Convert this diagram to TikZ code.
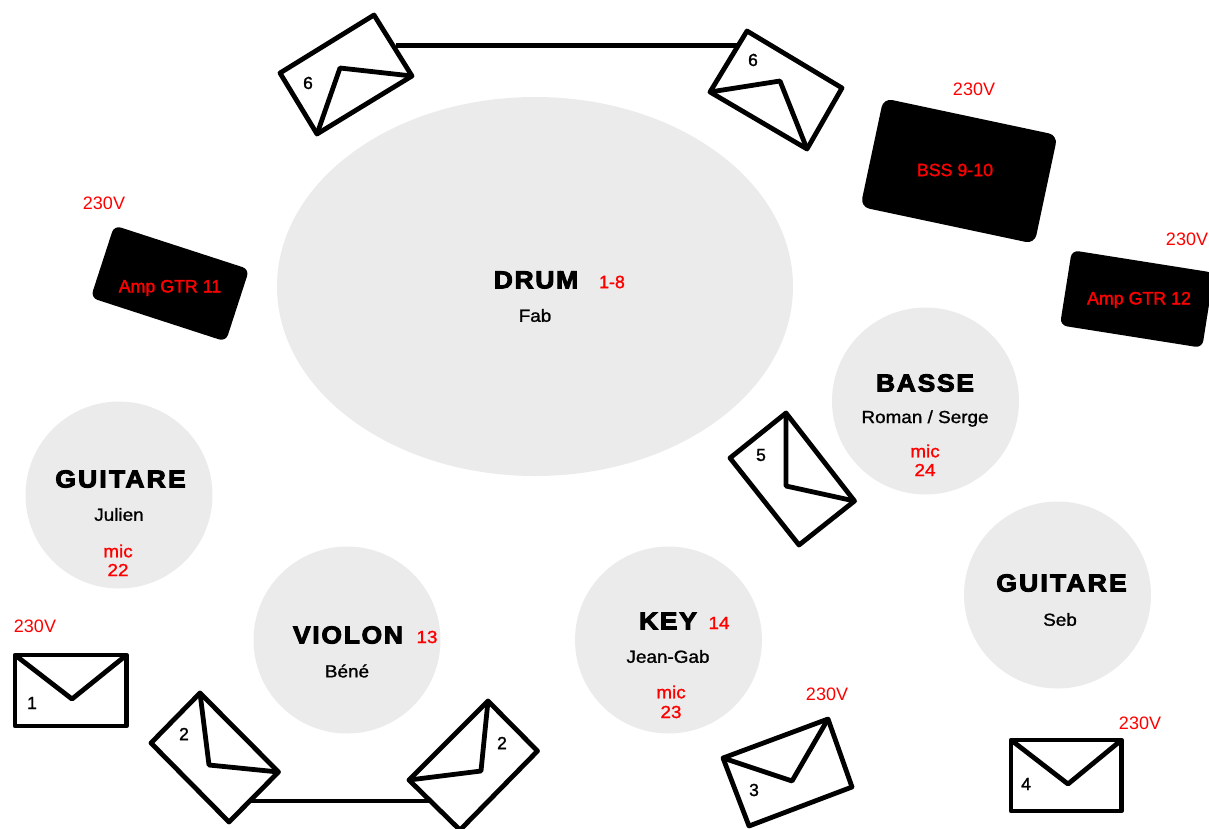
\documentclass[tikz,border=0pt]{standalone}
\usepackage{fontspec}
\usetikzlibrary{shapes.geometric}
\setmainfont{Liberation Sans}
\newfontfamily\headfont[FakeBold=4,FakeStretch=1.08,LetterSpace=7]{Liberation Sans Bold}
\newfontfamily\widefont[FakeBold=4,FakeStretch=1.08,LetterSpace=9]{Liberation Sans Bold}
\newfontfamily\namefont[FakeBold=1.2,FakeStretch=1.08]{Liberation Sans}
\newfontfamily\boxfont[FakeBold=1.5]{Liberation Sans}
\definecolor{stagegrey}{HTML}{EBEBEB}
\tikzset{
    player/.style={circle,fill=stagegrey,minimum size=187pt,inner sep=0pt},
    heading/.style={inner sep=0pt,font=\headfont\fontsize{24.5}{26}\selectfont},
    wideheading/.style={inner sep=0pt,font=\widefont\fontsize{24.5}{26}\selectfont},
    person/.style={inner sep=0pt,font=\namefont\fontsize{17.5}{20}\selectfont},
    redlabel/.style={inner sep=0pt,text=red,font=\namefont\fontsize{17.5}{20}\selectfont},
    boxlabel/.style={inner sep=0pt,text=red,font=\boxfont\fontsize{17.8}{20}\selectfont},
    power/.style={inner sep=0pt,text=red,font=\fontsize{18}{20}\selectfont},
    number/.style={inner sep=0pt,font=\boxfont\fontsize{17.5}{20}\selectfont},
    ampbox/.style={fill=black,rounded corners=9pt,inner sep=0pt},
    envelope/.style={line width=4.8pt,line join=round},
    wire/.style={line width=4.8pt}
}
\begin{document}
\begin{tikzpicture}[x=1pt,y=-1pt]
    \useasboundingbox (0,0) rectangle (1209,828);
    \node[ellipse,fill=stagegrey,minimum width=516pt,minimum height=379pt,inner sep=0pt] (drum) at (535,286.5) {};
    \node[player] (julien) at (119,495) {};
    \node[player] (bene) at (347,640) {};
    \node[player] (jeangab) at (668.5,640) {};
    \node[player] (roman) at (925.5,401) {};
    \node[player] (seb) at (1057.5,595) {};
    \node[ampbox,minimum width=178pt,minimum height=111pt,rotate=-12] (bss) at (959,171) {};
    \node[ampbox,minimum width=144pt,minimum height=76pt,rotate=-9,rounded corners=7pt] (amptwelve) at (1137,299) {};
    \node[ampbox,minimum width=142pt,minimum height=76pt,rotate=-18,rounded corners=7pt] (ampeleven) at (170,283.5) {};
    \coordinate (sixleftport) at (396,45.5);
    \coordinate (sixrightport) at (737,45.5);
    \coordinate (twoleftport) at (249,801);
    \coordinate (tworightport) at (430,801);
    \draw[wire] (sixleftport) -- (sixrightport);
    \draw[wire] (twoleftport) -- (tworightport);
    \draw[envelope] (15,655) -- (126.5,655) -- (126.5,726) -- (15,726) -- cycle;
    \draw[envelope] (15,655) -- (72,699) -- (126.5,655);
    \draw[envelope] (200,693) -- (278.5,772) -- (229,822) -- (151,743) -- cycle;
    \draw[envelope] (200,693) -- (209,765) -- (278.5,772);
    \draw[envelope] (488,701) -- (537.5,751) -- (460,830) -- (409,780) -- cycle;
    \draw[envelope] (488,701) -- (481,771) -- (409,780);
    \draw[envelope] (723,758) -- (828,719) -- (852,787) -- (749,826) -- cycle;
    \draw[envelope] (723,758) -- (792,781) -- (828,719);
    \draw[envelope] (1011,740) -- (1121.5,740) -- (1121.5,811) -- (1011,811) -- cycle;
    \draw[envelope] (1011,740) -- (1068,784) -- (1121.5,740);
    \draw[envelope] (786,413) -- (854.5,501) -- (799,545) -- (730,458) -- cycle;
    \draw[envelope] (786,413) -- (786,486) -- (854.5,501);
    \draw[envelope] (374,15) -- (412,76) -- (317,134) -- (280,73) -- cycle;
    \draw[envelope] (317,134) -- (340,68) -- (412,76);
    \draw[envelope] (747,31) -- (842,88) -- (807,149) -- (710,92) -- cycle;
    \draw[envelope] (710,92) -- (780,81) -- (807,149);
    \node[heading] (drumhead) at (536,280) {DRUM};
    \node[boxlabel] (drumchan) at (612,282) {1-8};
    \node[person] (fab) at (535,315.5) {Fab};
    \node[heading] (bassehead) at (925,383) {BASSE};
    \node[person] (romanname) at (925,418.5) {Roman / Serge};
    \node[redlabel] (romanmic) at (925,451) {mic};
    \node[redlabel] (romanchan) at (925,470) {24};
    \node[wideheading] (julienhead) at (120.5,479) {GUITARE};
    \node[person] (julienname) at (119,514.5) {Julien};
    \node[redlabel] (julienmic) at (118,551) {mic};
    \node[redlabel] (julienchan) at (118,570) {22};
    \node[heading] (violonhead) at (348,635) {VIOLON};
    \node[redlabel] (benechan) at (427,637) {13};
    \node[person] (benename) at (347,671) {Béné};
    \node[heading] (keyhead) at (668,621) {KEY};
    \node[redlabel] (keychan) at (719,623) {14};
    \node[person] (jeangabname) at (668,656.5) {Jean-Gab};
    \node[redlabel] (keymic) at (671,692) {mic};
    \node[redlabel] (keymicchan) at (671,712) {23};
    \node[wideheading] (sebhead) at (1061.5,583) {GUITARE};
    \node[person] (sebname) at (1060,619.5) {Seb};
    \node[boxlabel] (ampelevenlabel) at (170,288) {Amp GTR 11};
    \node[boxlabel] (bsslabel) at (955,170) {BSS 9-10};
    \node[boxlabel] (amptwelvelabel) at (1139,300) {Amp GTR 12};
    \node[power] (powera) at (104,203) {230V};
    \node[power] (powerb) at (974,89) {230V};
    \node[power] (powerc) at (1187,239) {230V};
    \node[power] (powerd) at (35,626) {230V};
    \node[power] (powere) at (827,694) {230V};
    \node[power] (powerf) at (1140,723) {230V};
    \node[number] (envone) at (32,703) {1};
    \node[number] (envtwoa) at (184,734) {2};
    \node[number] (envtwob) at (502,743) {2};
    \node[number] (envthree) at (754,790) {3};
    \node[number] (envfour) at (1026,784) {4};
    \node[number] (envfive) at (761,455) {5};
    \node[number] (envsixa) at (308,83) {6};
    \node[number] (envsixb) at (753,60) {6};
\end{tikzpicture}
\end{document}
